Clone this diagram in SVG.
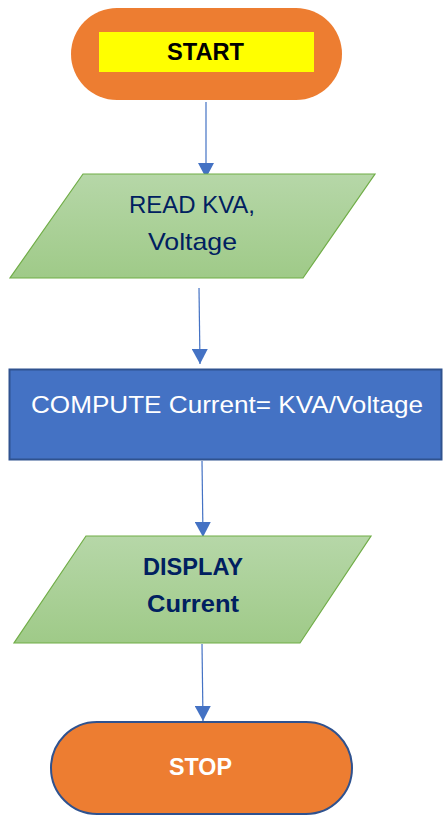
<svg xmlns="http://www.w3.org/2000/svg" width="443" height="816" viewBox="0 0 443 816">
<defs>
<linearGradient id="g" x1="0" y1="0" x2="0" y2="1">
<stop offset="0" stop-color="#B6D7A8"/>
<stop offset="1" stop-color="#9FCA88"/>
</linearGradient>
<marker id="ah" markerUnits="userSpaceOnUse" markerWidth="16" markerHeight="16" viewBox="0 0 16 16" refX="15" refY="8" orient="auto">
<path d="M0,0 L15,8 L0,16 Z" fill="#4472C4"/>
</marker>
<style>
.c{stroke:#4472C4;stroke-width:1.2;fill:none;marker-end:url(#ah)}
.io{fill:url(#g);stroke:#70AD47;stroke-width:1.2}
text{font-family:"Liberation Sans",Arial,sans-serif;text-anchor:middle;font-size:24px}
.nv{fill:#002060}
.b{font-weight:bold}
.w{fill:#FFFFFF}
</style>
</defs>
<g id="connectors">
<line class="c" x1="206" y1="102" x2="206" y2="178"/>
<line class="c" x1="199" y1="288" x2="200" y2="364"/>
<line class="c" x1="202" y1="461" x2="203" y2="537"/>
<line class="c" x1="202" y1="644" x2="203" y2="721"/>
</g>
<g id="start">
<rect x="71" y="8" width="271" height="92" rx="46" fill="#ED7D31"/>
<rect x="99" y="32" width="215" height="40" fill="#FFFF00"/>
<text x="205.5" y="60" class="b" fill="#000000" textLength="77" lengthAdjust="spacingAndGlyphs">START</text>
</g>
<g id="read">
<polygon class="io" points="83,174 375,174 303,278 10,278"/>
<text x="192" y="213" class="nv" textLength="126" lengthAdjust="spacingAndGlyphs">READ KVA,</text>
<text x="192.5" y="250" class="nv" textLength="89" lengthAdjust="spacingAndGlyphs">Voltage</text>
</g>
<g id="compute">
<rect x="9.5" y="369.5" width="432" height="90" fill="#4472C4" stroke="#2F528F" stroke-width="2"/>
<text x="227" y="413" class="w" textLength="392" lengthAdjust="spacingAndGlyphs">COMPUTE Current= KVA/Voltage</text>
</g>
<g id="display">
<polygon class="io" points="86,536 371,536 300,643 14,643"/>
<text x="193" y="575" class="nv b" textLength="100" lengthAdjust="spacingAndGlyphs">DISPLAY</text>
<text x="193" y="612" class="nv b" textLength="92" lengthAdjust="spacingAndGlyphs">Current</text>
</g>
<g id="stop">
<rect x="51" y="722" width="301" height="92" rx="46" fill="#ED7D31" stroke="#2F528F" stroke-width="2"/>
<text x="200.5" y="775" class="w b" textLength="63" lengthAdjust="spacingAndGlyphs">STOP</text>
</g>
</svg>
